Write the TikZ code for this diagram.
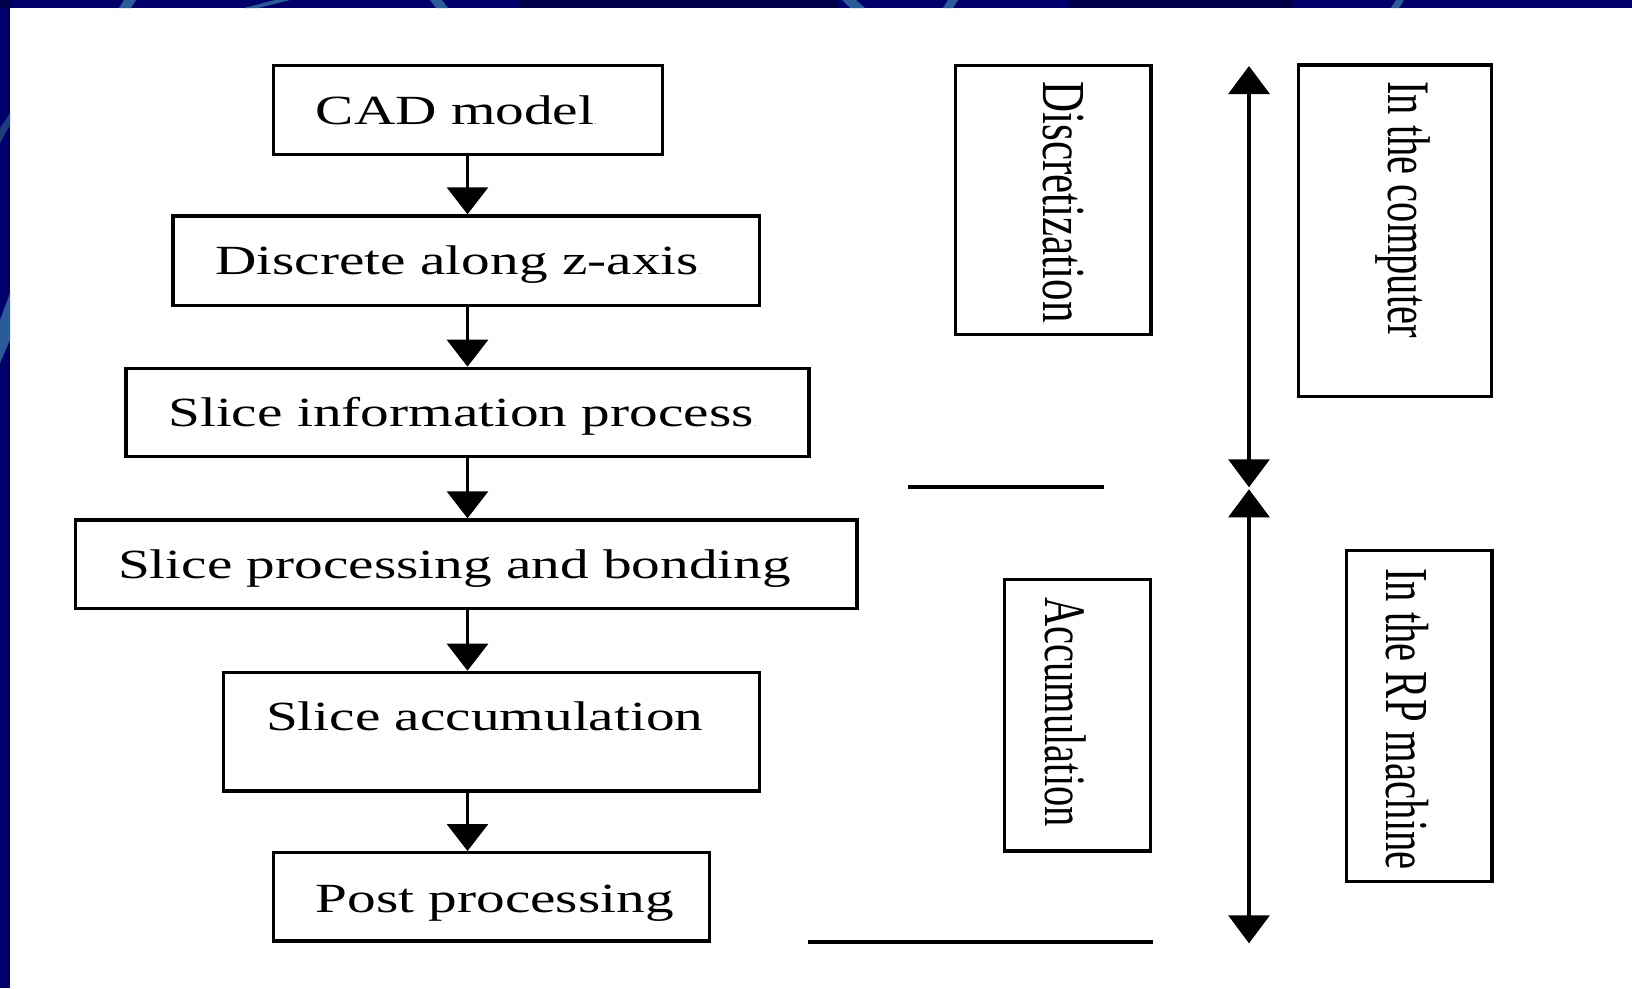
\documentclass[tikz,border=0pt]{standalone}
\usepackage{fontspec}
\usepackage{graphicx}
\setmainfont{Liberation Serif}
\usetikzlibrary{arrows.meta,calc}

\definecolor{navy}{RGB}{0,0,106}
\definecolor{navydk}{RGB}{0,0,72}
\definecolor{arcblue}{RGB}{42,92,154}
\definecolor{arcdim}{RGB}{28,62,124}

% stretched lettering: horizontal labels are widened, vertical ones thickened
\newcommand\hstr[1]{\scalebox{1.38}[1]{#1}}
\newcommand\vstr[2]{\scalebox{1}[#1]{#2}}
\newcommand\pdot{{\color{black!35}\fontsize{9}{9}\selectfont.}}

\tikzset{
  box/.style={draw=black, line width=3.3pt, inner sep=0pt, fill=white},
  hlbl/.style={anchor=base west, inner sep=0pt, outer sep=0pt,
               font=\fontsize{41.5}{48}\selectfont},
  vlbl/.style={anchor=base west, rotate=-90, inner sep=0pt, outer sep=0pt},
  flow/.style={line width=3.1pt, -{Triangle[length=27pt,width=41pt]}},
  span/.style={line width=3.1pt,
               {Triangle[length=28pt,width=41pt]}-{Triangle[length=28pt,width=41pt]}},
  rule/.style={line width=3.1pt},
}

\begin{document}
\begin{tikzpicture}[x=1pt,y=-1pt]
\useasboundingbox (0,0) rectangle (1632,988);

% slide background with its frame bands
\fill[white] (0,0) rectangle (1632,988);
\fill[navy] (0,0) rectangle (1632,8);
\fill[navy] (0,0) rectangle (10,988);
\fill[navydk] (0,0) rectangle (10,8);
\fill[navydk] (520,0) rectangle (838,8);
\fill[navydk] (1070,0) rectangle (1293,8);
% arcs of the template crossing the bands
\fill[arcblue] (119,8) -- (131,8) -- (136,0) -- (124,0) -- cycle;
\fill[arcblue] (244,8) -- (258,8) -- (290,0) -- (275,0) -- cycle;
\fill[arcblue] (436,8) -- (448,8) -- (442,0) -- (430,0) -- cycle;
\fill[arcblue] (850,8) -- (865,8) -- (856,0) -- (842,0) -- cycle;
\fill[arcblue] (943,8) -- (953,8) -- (958,0) -- (948,0) -- cycle;
\fill[arcblue] (1391,8) -- (1399,8) -- (1404,0) -- (1396,0) -- cycle;
\fill[arcdim] (0,128) -- (10,113) -- (10,125) -- (0,143) -- cycle;
\fill[arcblue] (0,320) -- (10,293) -- (10,340) -- (0,363) -- cycle;

% process chain
\node[box, minimum width=388.9, minimum height=88.7] (b1) at (467.9,110) {};
\node[box, minimum width=586.1, minimum height=89.7] (b2) at (466.1,260.8) {};
\node[box, minimum width=682.9, minimum height=88.3] (b3) at (467.4,412.5) {};
\node[box, minimum width=781.2, minimum height=88.4] (b4) at (466.35,564.15) {};
\node[box, minimum width=535.4, minimum height=118.7] (b5) at (491.45,731.7) {};
\node[box, minimum width=436.0, minimum height=88.4] (b6) at (491.45,896.85) {};

\node[hlbl] (t1) at ([shift={(44,60)}]b1.north west) {\hstr{CAD model\pdot}};
\node[hlbl] (t2) at ([shift={(44,60)}]b2.north west) {\hstr{Discrete along z-axis\pdot}};
\node[hlbl] (t3) at ([shift={(44,60)}]b3.north west) {\hstr{Slice information process\pdot}};
\node[hlbl] (t4) at ([shift={(44,60.5)}]b4.north west) {\hstr{Slice processing and bonding}};
\node[hlbl] (t5) at ([shift={(44,59.5)}]b5.north west) {\hstr{Slice accumulation}};
\node[hlbl] (t6) at ([shift={(44,61)}]b6.north west) {\hstr{Post processing}};

% arrows of the chain share one column
\coordinate (col) at (467.5,0);
\draw[flow] (b1.south -| col) -- (b2.north -| col);
\draw[flow] (b2.south -| col) -- (b3.north -| col);
\draw[flow] (b3.south -| col) -- (b4.north -| col);
\draw[flow] (b4.south -| col) -- (b5.north -| col);
\draw[flow] (b5.south -| col) -- (b6.north -| col);

% stage boxes
\node[box, minimum width=195.8, minimum height=268.7] (b7) at (1053.05,200) {};
\node[box, minimum width=193.0, minimum height=331.4] (b8) at (1394.85,230.65) {};
\node[box, minimum width=145.9, minimum height=271.4] (b9) at (1077.6,715.35) {};
\node[box, minimum width=145.5, minimum height=330.7] (b10) at (1419.1,716) {};

\node[vlbl, font=\fontsize{43}{50}\selectfont] (t7)
  at ([shift={(89.5,17.5)}]b7.north west) {\vstr{1.42}{Discretization\pdot}};
\node[vlbl, font=\fontsize{40.5}{48}\selectfont] (t8)
  at ([shift={(91.3,18.2)}]b8.north west) {\vstr{1.49}{In the computer}};
\node[vlbl, font=\fontsize{40.5}{48}\selectfont] (t9)
  at ([shift={(42,19.5)}]b9.north west) {\vstr{1.45}{Accumulation}};
\node[vlbl, font=\fontsize{40.7}{48}\selectfont] (t10)
  at ([shift={(41.8,19)}]b10.north west) {\vstr{1.5}{In the RP machine}};

% extent arrows and separating rules
\coordinate (s1a) at (1249,66);
\coordinate (s1b) at (1249,487.3);
\coordinate (s2a) at (1249,489.3);
\coordinate (s2b) at (1249,943.3);
\draw[span] (s1a) -- (s1b);
\draw[span] (s2a) -- (s2b);

\coordinate (r1a) at (908,487);
\coordinate (r1b) at (1104,487);
\coordinate (r2a) at (808,942);
\coordinate (r2b) at (1153,942);
\draw[rule] (r1a) -- (r1b);
\draw[rule] (r2a) -- (r2b);
\end{tikzpicture}
\end{document}
